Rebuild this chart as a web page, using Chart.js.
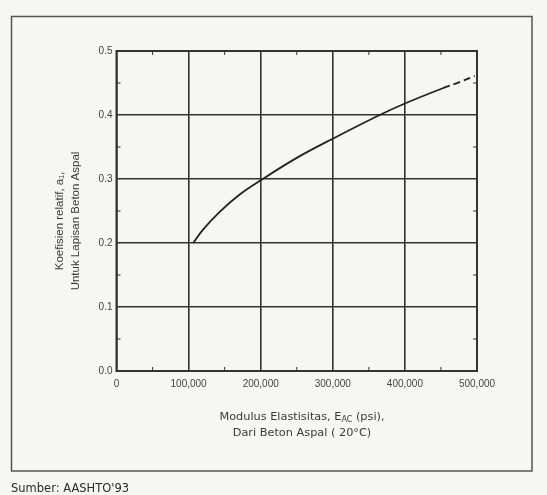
<!DOCTYPE html>
<html>
<head>
<meta charset="utf-8">
<script src="https://cdn.jsdelivr.net/npm/chart.js@4.4.1/dist/chart.umd.min.js"></script>
<style>
  html, body { margin: 0; padding: 0; background: #f6f6f4; }
  #wrap { width: 547px; height: 495px; position: relative; }
</style>
</head>
<body>
<div id="wrap"><canvas id="chart" width="547" height="495"></canvas></div>
<script>
const modulus = [106500, 120000, 143500, 170000, 200000, 250000, 300000, 365000, 400000, 453000, 475000, 497000];
const coef    = [0.200, 0.221, 0.249, 0.275, 0.298, 0.333, 0.363, 0.400, 0.418, 0.442, 0.451, 0.461];
const dashFrom = 453000; // extrapolated part is dashed

const xTicks = [0, 100000, 200000, 300000, 400000, 500000];
const yTicks = [0.0, 0.1, 0.2, 0.3, 0.4, 0.5];

const ink = "#333333";

const points = modulus.map((x, i) => ({x: x, y: coef[i]}));

// frame, plot border, inner minor ticks and the titles
const decor = {
  id: "decor",
  afterDraw(chart) {
    const ctx = chart.ctx;
    const a = chart.chartArea;
    const xs = chart.scales.x, ys = chart.scales.y;
    ctx.save();

    // outer figure frame
    ctx.strokeStyle = "#555";
    ctx.lineWidth = 1.5;
    ctx.strokeRect(11.5, 16.5, 520.5, 454.5);

    // plot box
    ctx.strokeStyle = ink;
    ctx.lineWidth = 2;
    ctx.strokeRect(a.left, a.top, a.right - a.left, a.bottom - a.top);

    // minor ticks inside
    ctx.lineWidth = 1;
    for (let v = 50000; v < 500000; v += 100000) {
      const px = xs.getPixelForValue(v);
      ctx.beginPath();
      ctx.moveTo(px, a.top); ctx.lineTo(px, a.top + 4);
      ctx.moveTo(px, a.bottom); ctx.lineTo(px, a.bottom - 4);
      ctx.stroke();
    }
    for (let v = 0.05; v < 0.5; v += 0.1) {
      const py = ys.getPixelForValue(v);
      ctx.beginPath();
      ctx.moveTo(a.left, py); ctx.lineTo(a.left + 4, py);
      ctx.moveTo(a.right, py); ctx.lineTo(a.right - 4, py);
      ctx.stroke();
    }

    // y title (rotated, two lines)
    ctx.fillStyle = "#3a3a3a";
    ctx.font = "11.5px 'Liberation Sans', Arial, sans-serif";
    ctx.textAlign = "center";
    ctx.textBaseline = "middle";
    ctx.translate(68, 221);
    ctx.rotate(-Math.PI / 2);
    ctx.fillText("Koefisien relatif, a\u2081,", 0, -8);
    ctx.fillText("Untuk Lapisan Beton Aspal", 0, 8);
    ctx.setTransform(1, 0, 0, 1, 0, 0);

    // x title with subscript
    ctx.textBaseline = "middle";
    ctx.textAlign = "left";
    const big = "11.3px 'DejaVu Sans', sans-serif", small = "8px 'DejaVu Sans', sans-serif";
    const p1 = "Modulus Elastisitas, E", sub = "AC", p2 = " (psi),";
    ctx.font = big;
    const w1 = ctx.measureText(p1).width, w3 = ctx.measureText(p2).width;
    ctx.font = small;
    const w2 = ctx.measureText(sub).width;
    let cx = 302 - (w1 + w2 + w3) / 2;
    const yLine = 417;
    ctx.font = big;
    ctx.fillText(p1, cx, yLine); cx += w1;
    ctx.font = small;
    ctx.fillText(sub, cx, yLine + 3); cx += w2;
    ctx.font = big;
    ctx.fillText(p2, cx, yLine);
    ctx.textAlign = "center";
    ctx.fillText("Dari Beton Aspal ( 20\u00B0C)", 302, 433);

    // source line
    ctx.textAlign = "left";
    ctx.fillStyle = "#2a2a2a";
    ctx.font = "11.5px 'DejaVu Sans', sans-serif";
    ctx.fillText("Sumber: AASHTO'93", 11, 489);
    ctx.restore();
  }
};

new Chart(document.querySelector("#chart"), {
  type: "line",
  data: {
    datasets: [{
      data: points,
      borderColor: "#222",
      borderWidth: 1.8,
      pointRadius: 0,
      tension: 0.35,
      segment: {
        borderDash: ctx => ctx.p0.parsed.x >= dashFrom ? [7, 4] : undefined
      }
    }]
  },
  options: {
    responsive: false,
    animation: false,
    layout: {padding: {left: 0, top: 51, right: 70, bottom: 0}},
    plugins: {
      legend: {display: false},
      tooltip: {enabled: false}
    },
    scales: {
      x: {
        type: "linear",
        min: 0,
        max: 500000,
        afterBuildTicks: s => { s.ticks = xTicks.map(v => ({value: v})); },
        afterFit: s => { s.height = 124; },
        border: {display: false},
        grid: {color: ink, lineWidth: 1.6, drawTicks: false},
        ticks: {
          padding: 7,
          color: "#444",
          font: {family: "'Liberation Sans', Arial, sans-serif", size: 10},
          callback: v => v.toLocaleString("en-US")
        }
      },
      y: {
        min: 0,
        max: 0.5,
        afterBuildTicks: s => { s.ticks = yTicks.map(v => ({value: v})); },
        afterFit: s => { s.width = 116.5; },
        border: {display: false},
        grid: {color: ink, lineWidth: 1.6, drawTicks: false},
        ticks: {
          padding: 4,
          color: "#444",
          font: {family: "'Liberation Sans', Arial, sans-serif", size: 10},
          callback: v => v.toFixed(1)
        }
      }
    }
  },
  plugins: [decor]
});
</script>
</body>
</html>
